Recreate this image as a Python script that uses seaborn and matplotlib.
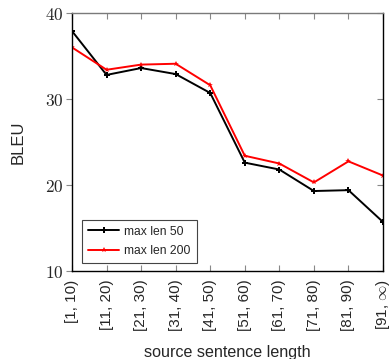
import matplotlib
matplotlib.use("Agg")
import matplotlib.pyplot as plt
import seaborn as sns
import pandas as pd

# BLEU by source sentence length bucket
buckets = ["[1, 10)", "[11, 20)", "[21, 30)", "[31, 40)", "[41, 50)",
           "[51, 60)", "[61, 70)", "[71, 80)", "[81, 90)", r"[91, $\infty$)"]
bleu_len50 = [37.9, 32.8, 33.6, 32.9, 30.7, 22.6, 21.8, 19.3, 19.4, 15.7]
bleu_len200 = [36.0, 33.4, 34.0, 34.1, 31.6, 23.4, 22.5, 20.3, 22.75, 21.1]
series_names = ["max len 50", "max len 200"]
y_ticks = [10, 20, 30, 40]

rows = []
for name, vals in zip(series_names, [bleu_len50, bleu_len200]):
    for i, v in enumerate(vals):
        rows.append({"bucket": i, "BLEU": v, "model": name})
df = pd.DataFrame(rows)

sns.set_theme(style="white")
plt.rcParams["mathtext.fontset"] = "cm"

fig = plt.figure(figsize=(3.91, 3.59), dpi=100)
ax = fig.add_axes([72 / 391, 1 - 271 / 359, (383 - 72) / 391, (271 - 13) / 359])

sns.lineplot(data=df, x="bucket", y="BLEU", hue="model", style="model",
             palette={"max len 50": "black", "max len 200": "red"},
             markers={"max len 50": "P", "max len 200": "*"},
             dashes=False, markersize=4, markeredgewidth=0, linewidth=1.4,
             ax=ax)

ax.set_xlim(0, len(buckets) - 1)
ax.set_ylim(10, 40)
ax.set_xticks(range(len(buckets)))
ax.set_xticklabels(buckets, rotation=90, family="Liberation Sans", fontsize=11)
ax.set_yticks(y_ticks)
ax.set_yticklabels([f"${t}$" for t in y_ticks], fontsize=12.5)

for s in ax.spines.values():
    s.set_color("black")
    s.set_linewidth(1.0)
ax.spines["top"].set_color("#7a7a7a")

ax.tick_params(axis="y", which="both", left=True, right=True, direction="out",
               length=4, width=0.8, color="#888888", pad=2)
ax.tick_params(axis="x", which="both", bottom=True, top=True, direction="in",
               length=4, width=0.8, color="#888888", pad=6)
# ticks on the right side point inward
for t in ax.yaxis.get_major_ticks():
    t.tick2line.set_marker(matplotlib.lines.TICKLEFT)

ax.set_xlabel("source sentence length", family="Liberation Sans", fontsize=11.6,
              labelpad=10)
ax.set_ylabel("BLEU", family="Liberation Sans", fontsize=12, labelpad=14)

leg = ax.legend(loc="lower left", bbox_to_anchor=(10 / 311, 8 / 258),
                borderaxespad=0, frameon=True,
                fancybox=False, edgecolor="#444444", framealpha=1,
                prop={"family": "Liberation Sans", "size": 8.7},
                handlelength=2.6, borderpad=0.5, labelspacing=0.6,
                handletextpad=0.4)
leg.get_frame().set_linewidth(0.8)

fig.savefig("out.png", dpi=100)
